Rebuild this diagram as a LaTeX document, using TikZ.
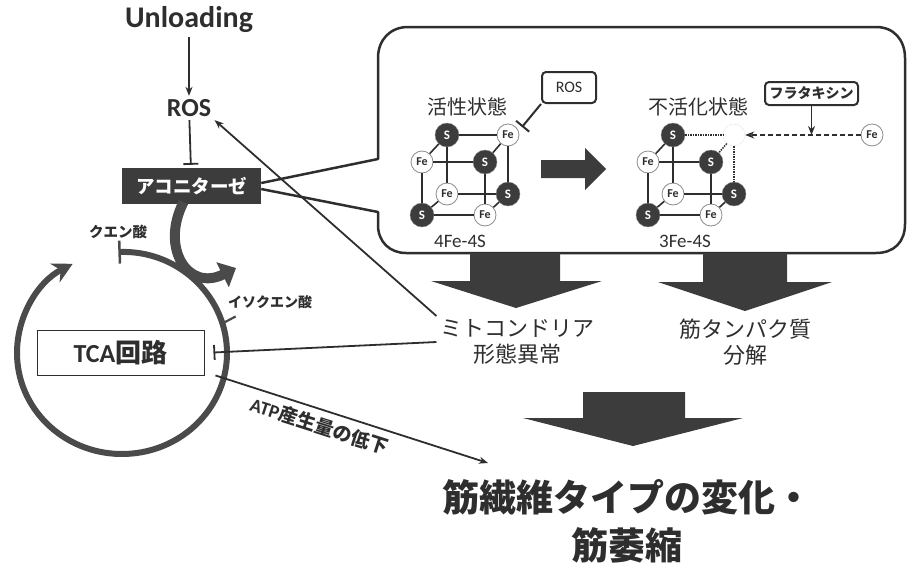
\documentclass[tikz,border=0pt]{standalone}
\usepackage{fontspec}
\setmainfont{Carlito}
\newfontfamily\jp{Noto Sans CJK JP}
\usetikzlibrary{positioning, arrows.meta, calc}

\definecolor{ink}{HTML}{2E2E2E}
\definecolor{slate}{HTML}{3C3C3C}
\definecolor{ring}{HTML}{4A4A4A}
\definecolor{rim}{HTML}{8C8C8C}

\begin{document}
\begin{tikzpicture}[x=1pt,y=-1pt,>={Stealth[length=9pt,width=7pt]},node distance=61pt,on grid]
\tikzstyle{sulfur}=[circle,fill=slate,draw=rim,line width=0.4pt,minimum size=24pt,inner sep=0pt,text=white,font=\bfseries\fontsize{13}{13}\selectfont]
\tikzstyle{iron}=[circle,fill=white,draw=rim,line width=0.8pt,minimum size=22pt,inner sep=0pt,text=ink,font=\bfseries\fontsize{12}{12}\selectfont]
\tikzstyle{vacant}=[circle,fill=white,draw=rim!60,densely dotted,minimum size=22pt,inner sep=0pt]
\tikzstyle{bond}=[ink,line width=1.6pt]
\tikzstyle{lost}=[ink,line width=1.5pt,densely dotted]
\tikzstyle{block}=[fill=slate,draw=none]
\tikzstyle{wire}=[ink,line width=1.8pt]
\tikzstyle{tag}=[rounded corners=4pt,draw=ink,line width=2pt,fill=white,inner sep=0pt]

\useasboundingbox (0,0) rectangle (907,571);

%-- Upstream signal --
\node[font=\bfseries\fontsize{30}{32}\selectfont,text=ink] (unload) at (189,20) {Unloading};
\node[font=\bfseries\fontsize{26}{30}\selectfont,text=ink] (ros) at (189,108) {ROS};
\node[fill=slate,text=white,minimum width=139pt,minimum height=36pt,inner sep=0pt,
  font=\jp\bfseries\fontsize{18.5}{20}\selectfont] (aco) at (191.5,186) {アコニターゼ};

\draw[wire,->] (unload) -- (ros);
\draw[wire,-{Bar[width=15pt]},shorten >=3pt] (ros) -- (aco);

%-- Callout around the cluster --
\draw[ink,line width=2.5pt,line join=round]
  ([yshift=3pt]aco.east) -- (378,159) -- (378,58)
  .. controls (378,40) and (390,27) .. (408,27) -- (876,27)
  .. controls (894,27) and (905,40) .. (905,58) -- (905,224)
  .. controls (905,242) and (894,253) .. (876,253) -- (406,253)
  .. controls (390,253) and (378,242) .. (378,225) -- (378,212)
  -- ([yshift=-3pt]aco.east);

%-- 4Fe-4S (active) --
\node[sulfur] (s1) at (447,135) {S};
\node[iron] (f1) [right=61pt of s1] {Fe};
\node[iron] (f2) [below left=27pt and 25pt of s1] {Fe};
\node[sulfur] (s2) [right=63pt of f2] {S};
\node[iron] (f3) [below=59pt of s1] {Fe};
\node[sulfur] (s3) [right=61pt of f3] {S};
\node[sulfur] (s4) [below=53pt of f2] {S};
\node[iron] (f4) [right=63pt of s4] {Fe};

\path[bond]
  (s1) edge (f1) (s1) edge (f3) (f1) edge (s3) (f3) edge (s3)
  (s1) edge (f2) (f1) edge (s2) (f3) edge (s4) (s3) edge (f4)
  (f2) edge (s2) (f2) edge (s4) (s2) edge (f4) (s4) edge (f4);

\node[font=\jp\fontsize{20}{24}\selectfont,text=ink] (act) at (467,107) {活性状態};
\node[font=\fontsize{19}{22}\selectfont,text=ink] (c4) at (460,241) {4Fe-4S};

\node[tag,minimum width=54pt,minimum height=31pt,font=\fontsize{16}{18}\selectfont,text=ink] (rosbox) at (569,87.5) {ROS};
\coordinate (hitc) at (522,127);
\draw[wire,line width=2pt,-{Bar[width=17pt]}] (rosbox.south west) -- (hitc);

%-- conversion arrow --
\fill[block] (541,160) -- (585,160) -- (585,148) -- (606,169) -- (585,190) -- (585,178) -- (541,178) -- cycle;

%-- 3Fe-4S (inactive) --
\node[sulfur] (s5) at (673,135) {S};
\node[vacant] (vac) [right=61pt of s5] {};
\node[iron] (f6) [below left=27pt and 25pt of s5] {Fe};
\node[sulfur] (s6) [right=63pt of f6] {S};
\node[iron] (f7) [below=59pt of s5] {Fe};
\node[sulfur] (s7) [right=61pt of f7] {S};
\node[sulfur] (s8) [below=53pt of f6] {S};
\node[iron] (f8) [right=63pt of s8] {Fe};

\path[bond]
  (s5) edge (f7) (f7) edge (s7)
  (s5) edge (f6) (f7) edge (s8) (s7) edge (f8)
  (f6) edge (s6) (f6) edge (s8) (s6) edge (f8) (s8) edge (f8);
\path[lost]
  (s5) edge (vac) (vac) edge (s6) (vac) edge (s7);

\node[font=\jp\fontsize{20}{24}\selectfont,text=ink] (inact) at (698,107) {不活化状態};
\node[font=\fontsize{19}{22}\selectfont,text=ink] (c3) at (685,241) {3Fe-4S};

\node[iron] (fe) at (872,135) {Fe};
\node[tag,minimum width=93pt,minimum height=23pt,font=\jp\bfseries\fontsize{14}{16}\selectfont,text=ink] (frat) at (811.5,93.5) {フラタキシン};
\coordinate (hitf) at (frat.south |- fe.center);
\draw[ink,line width=1.4pt,dashed,dash pattern=on 5pt off 3pt,->] (fe) -- (vac);
\draw[wire,->] (frat.south) -- (hitf);

%-- Outcomes --
\fill[block] (470,253) -- (560,253) -- (560,281) -- (602,281) -- (516,308) -- (431,281) -- (470,281) -- cycle;
\fill[block] (703,253) -- (787,253) -- (787,282) -- (832,282) -- (745,311) -- (658,282) -- (703,282) -- cycle;
\fill[block] (583,392) -- (685,392) -- (685,418) -- (743,418) -- (633,446) -- (523,418) -- (583,418) -- cycle;

\node[align=center,font=\jp\fontsize{22}{26}\selectfont,text=ink] (mito) at (517,342) {ミトコンドリア\\形態異常};
\node[align=center,font=\jp\fontsize{22}{26}\selectfont,text=ink] (prot) at (745,342) {筋タンパク質\\分解};
\node[align=center,font=\jp\bfseries\fontsize{37}{48}\selectfont,text=ink] (fiber) at (627,521) {筋繊維タイプの変化・\\筋萎縮};

%-- TCA cycle --
\node[draw=ink,line width=0.9pt,minimum width=167pt,minimum height=45pt,inner sep=0pt,
  font=\bfseries\fontsize{26}{28}\selectfont,text=ink] (tca) at (120.5,352.5) {TCA{\jp 回路}};

\draw[ring,line width=6pt,{Bar[width=23pt,line width=2.5pt]}-{Stealth[length=20pt,width=21pt]}]
  (122,353) ++(-92:105 and 101) arc[start angle=-92,end angle=242,x radius=105,y radius=101];
\path (122,353) ++(-17:105 and 101) coordinate (isoc);
\draw[ring,line width=2.2pt] (isoc) -- ++(-28:15);

\node[font=\jp\bfseries\fontsize{14.5}{16}\selectfont,text=ink] (citr) at (118,232) {クエン酸};
\node[font=\jp\bfseries\fontsize{14}{16}\selectfont,text=ink] (iso) at (270,302) {イソクエン酸};

\draw[ring,line width=10pt,-{Triangle[length=15pt,width=27pt]}]
  ([xshift=-8pt,yshift=2pt]aco.south) .. controls (160,248) and (188,292) .. (236,268);

%-- Links back from the outcomes --
\draw[wire,->] (mito.north west) -- (ros.south east);
\draw[wire,-{Bar[width=15pt]}] (mito.west) -- ([xshift=9pt]tca.east);
\coordinate (drop) at (488,463);
\draw[wire,->] ([xshift=11pt]tca.south east) -- node[sloped,below=3pt,pos=0.4,font=\bfseries\fontsize{19}{20}\selectfont,text=ink] {ATP{\jp 産生量の低下}} (drop);

\end{tikzpicture}
\end{document}
